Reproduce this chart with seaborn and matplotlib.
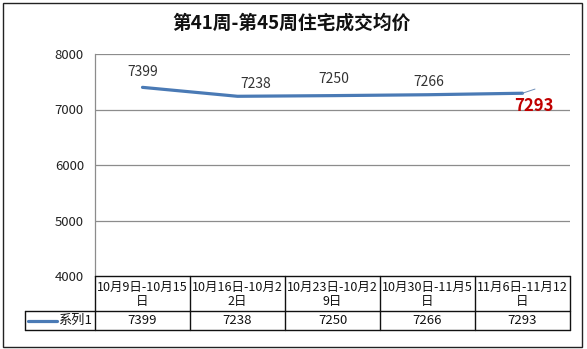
import matplotlib
matplotlib.use("Agg")
import matplotlib.pyplot as plt
from matplotlib.lines import Line2D
from matplotlib.patches import Rectangle
import seaborn as sns
import pandas as pd

sns.set_theme(style="white")
plt.rcParams["font.family"] = ["Noto Sans CJK SC", "DejaVu Sans"]

title = "第41周-第45周住宅成交均价"
series_name = "系列1"
weeks = ["10月9日-10月15日", "10月16日-10月22日", "10月23日-10月29日",
         "10月30日-11月5日", "11月6日-11月12日"]
prices = [7399, 7238, 7250, 7266, 7293]
y_ticks = [4000, 5000, 6000, 7000, 8000]

df = pd.DataFrame({"week": range(len(weeks)), "price": prices})

W, H = 587, 349
fig = plt.figure(figsize=(W / 100, H / 100), dpi=100)
fig.patch.set_facecolor("white")


def fx(px):
    return px / W


def fy(py):
    return 1 - py / H


# chart frame
fig.add_artist(Rectangle((fx(3), fy(347)), fx(579), 344 / H, transform=fig.transFigure,
                         fill=False, edgecolor="#222222", linewidth=1.0))

# plot area
px0, px1, py_top, py_bot = 95, 570, 54, 276
ax = fig.add_axes([fx(px0), fy(py_bot), fx(px1 - px0), (py_bot - py_top) / H])
line_color = "#4A7AB5"
sns.lineplot(data=df, x="week", y="price", ax=ax, color=line_color, linewidth=2.3)

ax.set_xlim(-0.5, len(weeks) - 0.5)
ax.set_ylim(y_ticks[0], y_ticks[-1])
ax.set_yticks(y_ticks)
ax.set_yticklabels([str(t) for t in y_ticks], fontsize=9.5, color="#222222")
ax.tick_params(axis="y", length=0, pad=8)
ax.set_xticks([])
ax.set_xlabel("")
ax.set_ylabel("")
for s in ["top", "right", "bottom"]:
    ax.spines[s].set_visible(False)
ax.spines["left"].set_color("#8c8c8c")
ax.spines["left"].set_linewidth(0.9)
for t in y_ticks[1:]:
    ax.axhline(t, color="#8c8c8c", linewidth=0.9, zorder=0)

# value labels
offsets = [(0, 6), (13, 4), (1, 7), (1, 4)]
for i, v in enumerate(prices[:-1]):
    ax.annotate(str(v), (i, v), textcoords="offset points", xytext=offsets[i],
                ha="center", va="bottom", fontsize=10, color="#333333")
last = len(prices) - 1
ax.annotate("", (last, prices[-1]), textcoords="offset points", xytext=(9, 3),
            arrowprops=dict(arrowstyle="-", color="#6f8fb8", linewidth=0.7,
                            shrinkA=0, shrinkB=0))
ax.annotate(str(prices[-1]), (last, prices[-1]), textcoords="offset points",
            xytext=(8, -3), ha="center", va="top", fontsize=12, fontweight="bold",
            color="#C00000")

fig.text(fx(292), fy(23), title, ha="center", va="center", fontsize=13.5,
         fontweight="bold", color="#111111")

# data table under the plot
tx0, tx1 = px0, px1
ty0, ty1, ty2 = 276, 311, 330
lx0 = 25
col_w = (tx1 - tx0) / len(weeks)
lk = dict(color="#111111", linewidth=1.0, transform=fig.transFigure)
fig.add_artist(Line2D([fx(tx0), fx(tx1)], [fy(ty0), fy(ty0)], **lk))
fig.add_artist(Line2D([fx(lx0), fx(tx1)], [fy(ty1), fy(ty1)], **lk))
fig.add_artist(Line2D([fx(lx0), fx(tx1)], [fy(ty2), fy(ty2)], **lk))
fig.add_artist(Line2D([fx(lx0), fx(lx0)], [fy(ty1), fy(ty2)], **lk))
for k in range(len(weeks) + 1):
    xk = tx0 + k * col_w
    fig.add_artist(Line2D([fx(xk), fx(xk)], [fy(ty0), fy(ty2)], **lk))


def wrap(label, n=11):
    return label[:n] + "\n" + label[n:]


for k, (w, v) in enumerate(zip(weeks, prices)):
    cx = tx0 + (k + 0.5) * col_w
    fig.text(fx(cx), fy(294), wrap(w), ha="center", va="center",
             fontsize=9, color="#111111", linespacing=1.1)
    fig.text(fx(cx), fy(320.5), str(v), ha="center", va="center",
             fontsize=9.5, color="#111111")

fig.add_artist(Line2D([fx(28), fx(57)], [fy(320.5), fy(320.5)], color=line_color,
                      linewidth=2.3, transform=fig.transFigure))
fig.text(fx(92), fy(320.5), series_name, ha="right", va="center", fontsize=9.5,
         color="#111111")

fig.savefig("out.png", dpi=100, facecolor="white")
